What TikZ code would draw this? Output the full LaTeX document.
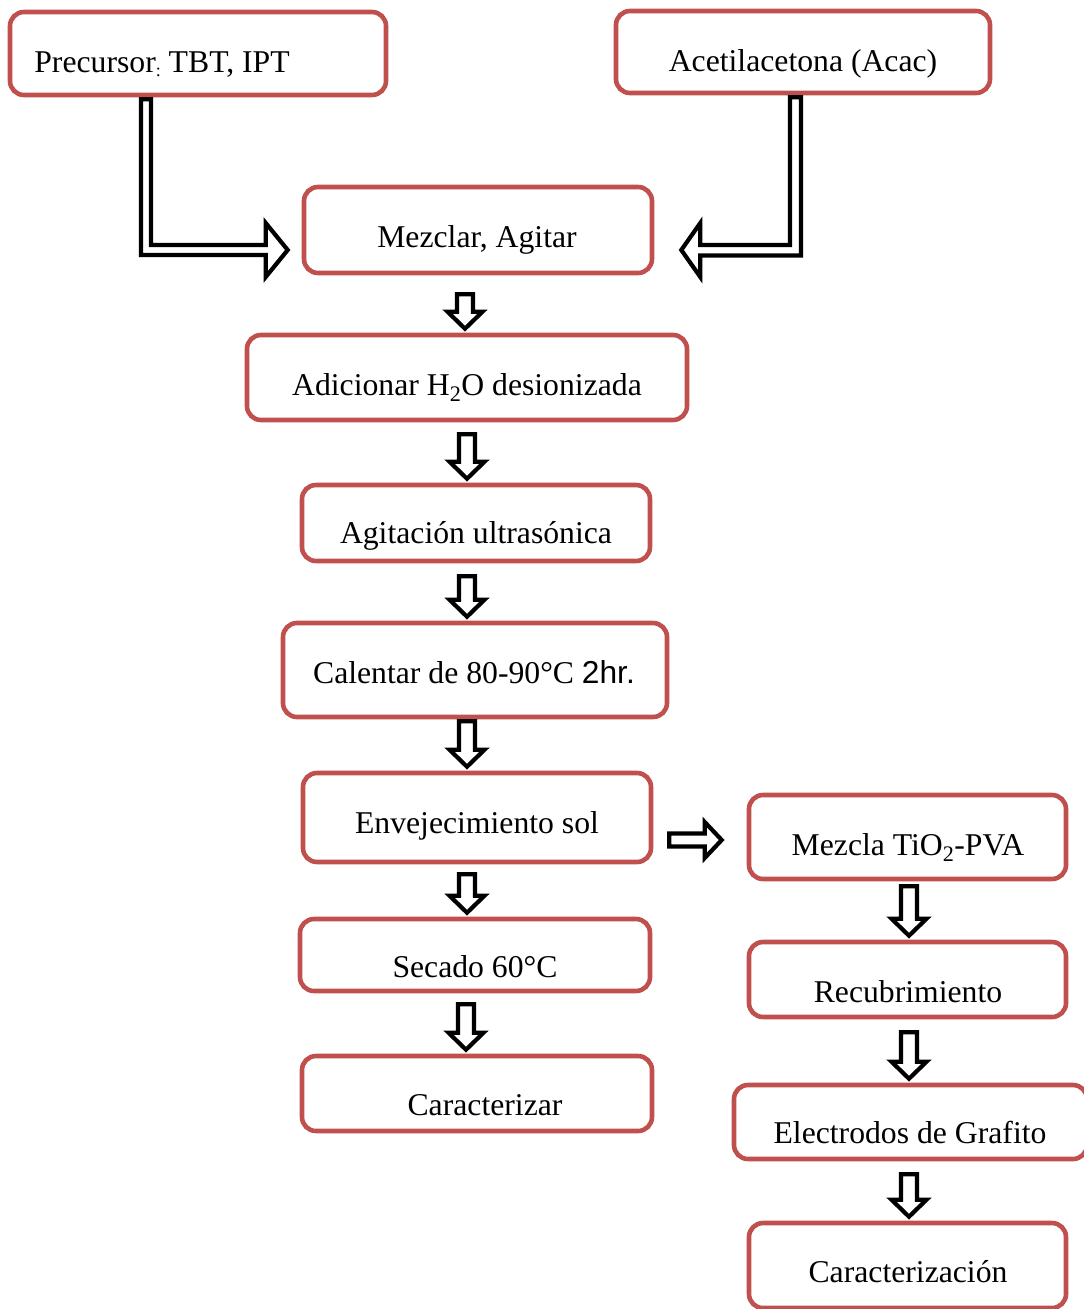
\documentclass[tikz,border=0pt]{standalone}
\usepackage{fontspec}
\setmainfont{Liberation Serif}
\newfontfamily\arialfont{Liberation Sans}
\usetikzlibrary{calc}
\definecolor{boxred}{RGB}{192,80,77}
\newcommand\blkdown[4]{% from node, to node, x, gap
  \coordinate (bt) at (#3,0 |- #1.south);
  \coordinate (bh) at (#3,0 |- #2.north);
  \draw[blk] ($(bt)+(-8,#4)$) -- ($(bt)+(8,#4)$) -- ($(bh)+(8,-21)$) -- ($(bh)+(17.5,-21)$)
    -- ($(bh)+(0,-4)$) -- ($(bh)+(-17.5,-21)$) -- ($(bh)+(-8,-21)$) -- cycle;}
\begin{document}
\begin{tikzpicture}[x=1pt,y=-1pt,
  box/.style={draw=boxred, line width=4.6pt, rounded corners=14pt, fill=white, inner sep=0pt},
  lbl/.style={anchor=base, inner sep=0pt, font=\fontsize{31.7}{38}\selectfont},
  blk/.style={draw=black, line width=4.2pt, fill=white, line join=miter, miter limit=10}]
\useasboundingbox (0,0) rectangle (1084,1309);
% boxes
\node[box, minimum width=376pt, minimum height=83pt] (P)  at (198,53.5) {};
\node[box, minimum width=374pt, minimum height=82pt] (A)  at (803,52) {};
\node[box, minimum width=348pt, minimum height=86pt] (M)  at (478,230) {};
\node[box, minimum width=440pt, minimum height=85pt] (Ad) at (467,377.5) {};
\node[box, minimum width=348pt, minimum height=76pt] (Ag) at (476,523) {};
\node[box, minimum width=384pt, minimum height=94pt] (C)  at (475,670) {};
\node[box, minimum width=348pt, minimum height=89pt] (E)  at (477,817.5) {};
\node[box, minimum width=350pt, minimum height=72pt] (S)  at (475,955) {};
\node[box, minimum width=350pt, minimum height=75pt] (Cz) at (477,1093.5) {};
\node[box, minimum width=317pt, minimum height=84pt] (Mz) at (907.5,837) {};
\node[box, minimum width=317pt, minimum height=75pt] (R)  at (907.5,979.5) {};
\node[box, minimum width=353pt, minimum height=74pt] (El) at (910.5,1122) {};
\node[box, minimum width=317pt, minimum height=85pt] (Cn) at (907.5,1265.5) {};
% labels
\node[lbl] (tP)  at (162,72)   {Precursor\raisebox{-0.3ex}{\fontsize{18}{18}\selectfont:} TBT, IPT};
\node[lbl] (tA)  at (803,71)   {Acetilacetona (Acac)};
\node[lbl] (tM)  at (477,247)  {Mezclar, Agitar};
\node[lbl] (tAd) at (467,395)  {Adicionar H\textsubscript{2}O desionizada};
\node[lbl] (tAg) at (476,543)  {Agitación ultrasónica};
\node[lbl] (tC)  at (474,683)  {Calentar de 80-90°C {\arialfont 2hr.}};
\node[lbl] (tE)  at (477,833)  {Envejecimiento sol};
\node[lbl] (tS)  at (475,977)  {Secado 60°C};
\node[lbl] (tCz) at (485,1115) {Caracterizar};
\node[lbl] (tMz) at (908,855)  {Mezcla TiO\textsubscript{2}-PVA};
\node[lbl] (tR)  at (908,1002) {Recubrimiento};
\node[lbl] (tEl) at (910,1143) {Electrodos de Grafito};
\node[lbl] (tCn) at (908,1282) {Caracterización};
% bent arrows into Mezclar
\coordinate (ls) at ($(P.south)+(-52,2)$);
\coordinate (lt) at ($(M.west)+(-14,20)$);
\draw[blk] ($(ls)+(-5,0)$) -- ($(ls)+(5,0)$) -- ($(ls|-lt)+(5,-5)$) -- ($(lt)+(-22,-5)$)
  -- ($(lt)+(-22,-27)$) -- (lt) -- ($(lt)+(-22,27)$) -- ($(lt)+(-22,5)$) -- ($(ls|-lt)+(-5,5)$) -- cycle;
\coordinate (rs) at ($(A.south)+(-7.5,2)$);
\coordinate (rt) at ($(M.east)+(27,20)$);
\draw[blk] ($(rs)+(5.5,0)$) -- ($(rs)+(-5.5,0)$) -- ($(rs|-rt)+(-5.5,-5)$) -- ($(rt)+(19,-5)$)
  -- ($(rt)+(19,-27)$) -- (rt) -- ($(rt)+(19,27)$) -- ($(rt)+(19,5.5)$) -- ($(rs|-rt)+(5.5,5.5)$) -- cycle;
% down arrows
\blkdown{M}{Ad}{465}{19}
\blkdown{Ad}{Ag}{467}{12}
\blkdown{Ag}{C}{467}{13}
\blkdown{C}{E}{467}{2}
\blkdown{E}{S}{467}{10}
\blkdown{S}{Cz}{466}{11}
\blkdown{Mz}{R}{909}{5}
\blkdown{R}{El}{909}{13}
\blkdown{El}{Cn}{909}{13}
% right arrow Envejecimiento -> Mezcla
\coordinate (hs) at ($(E.east)+(16,22.5)$);
\coordinate (ht) at ($(Mz.west)+(-25,3)$);
\draw[blk] ($(hs)+(0,-6.5)$) -- ($(ht)+(-17,-6.5)$) -- ($(ht)+(-17,-18)$) -- (ht)
  -- ($(ht)+(-17,18)$) -- ($(ht)+(-17,6.5)$) -- ($(hs)+(0,6.5)$) -- cycle;
\end{tikzpicture}
\end{document}
